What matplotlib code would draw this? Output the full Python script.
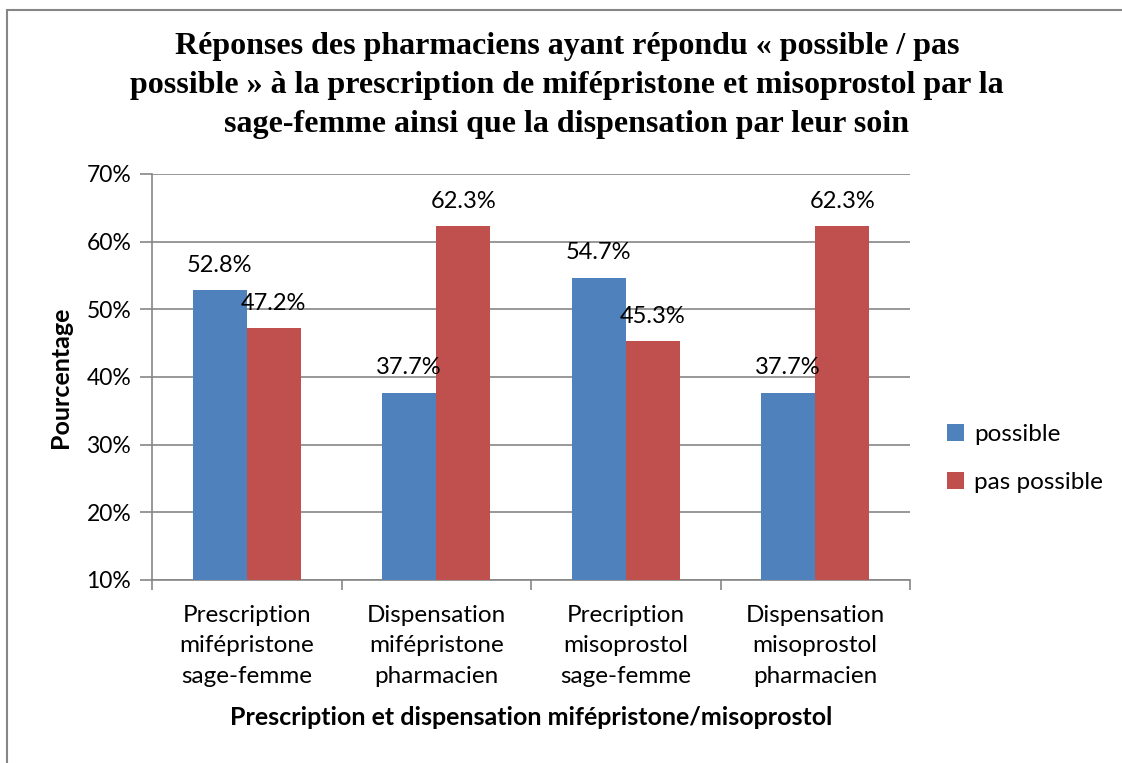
import numpy as np
import matplotlib.pyplot as plt
from matplotlib.patches import Rectangle

categories = [
    "Prescription\nmifépristone\nsage-femme",
    "Dispensation\nmifépristone\npharmacien",
    "Precription\nmisoprostol\nsage-femme",
    "Dispensation\nmisoprostol\npharmacien",
]
series_names = ["possible", "pas possible"]
possible = [52.8, 37.7, 54.7, 37.7]
pas_possible = [47.2, 62.3, 45.3, 62.3]
yticks = [10, 20, 30, 40, 50, 60, 70]

colors = ["#4F81BD", "#C0504D"]
grid_color = "#868686"

plt.rcParams["font.family"] = ["Lato", "DejaVu Sans"]

fig = plt.figure(figsize=(11.22, 7.63), dpi=100)
W, H = 1122, 763
# axes placement in pixels
left, right, top, bottom = 152, 910, 174, 580
ax = fig.add_axes([left / W, 1 - bottom / H, (right - left) / W, (bottom - top) / H])

# outer chart border (right and bottom edges fall outside the picture)
fig.patches.append(Rectangle((7 / W, -10 / H), 1130 / W, 763 / H, transform=fig.transFigure,
                             fill=False, edgecolor=grid_color, linewidth=1.5))

x = np.arange(len(categories))
bw = 1 / 3.5
for vals, name, c, off in [(possible, series_names[0], colors[0], -bw / 2),
                           (pas_possible, series_names[1], colors[1], bw / 2)]:
    bars = ax.bar(x + off, vals, width=bw, color=c, label=name, zorder=3)
    for b, v in zip(bars, vals):
        ax.annotate(f"{v:.1f}%", (b.get_x() + b.get_width() / 2, v), xytext=(0, 18),
                    textcoords="offset points", ha="center", va="center",
                    fontsize=17, zorder=4)

ax.set_xlim(-0.5, len(categories) - 0.5)
ax.set_ylim(10, 70)
ax.set_yticks(yticks)
ax.set_yticklabels([f"{t}%" for t in yticks], fontsize=16.5)
ax.yaxis.grid(True, color=grid_color, linewidth=1.2, zorder=0)
ax.set_xticks(x)
ax.set_xticklabels(categories, fontsize=17.5, linespacing=1.55)
ax.set_xticks(np.arange(len(categories) + 1) - 0.5, minor=True)
ax.tick_params(axis="x", which="major", length=0, pad=18)
ax.tick_params(axis="x", which="minor", length=7, color=grid_color, width=1.2)
ax.tick_params(axis="y", length=9, color=grid_color, width=1.2, pad=6)
for s in ["top", "right"]:
    ax.spines[s].set_visible(False)
for s in ["left", "bottom"]:
    ax.spines[s].set_color(grid_color)
    ax.spines[s].set_linewidth(1.2)

ax.set_ylabel("Pourcentage", fontsize=18, fontweight="bold", labelpad=10)
ax.set_xlabel("Prescription et dispensation mifépristone/misoprostol", fontsize=18,
              fontweight="bold", labelpad=14)

fig.suptitle("Réponses des pharmaciens ayant répondu « possible / pas\n"
             "possible » à la prescription de mifépristone et misoprostol par la\n"
             "sage-femme ainsi que la dispensation par leur soin",
             x=567 / W, y=1 - 32 / H, fontsize=23, fontweight="bold",
             family="Liberation Serif", linespacing=1.45, va="top")

ax.legend(loc="center left", bbox_to_anchor=(1.02, 0.30), frameon=False, fontsize=17.5,
          handlelength=0.7, handleheight=0.7, handletextpad=0.4, labelspacing=1.1)

fig.savefig("out.png", dpi=100)
